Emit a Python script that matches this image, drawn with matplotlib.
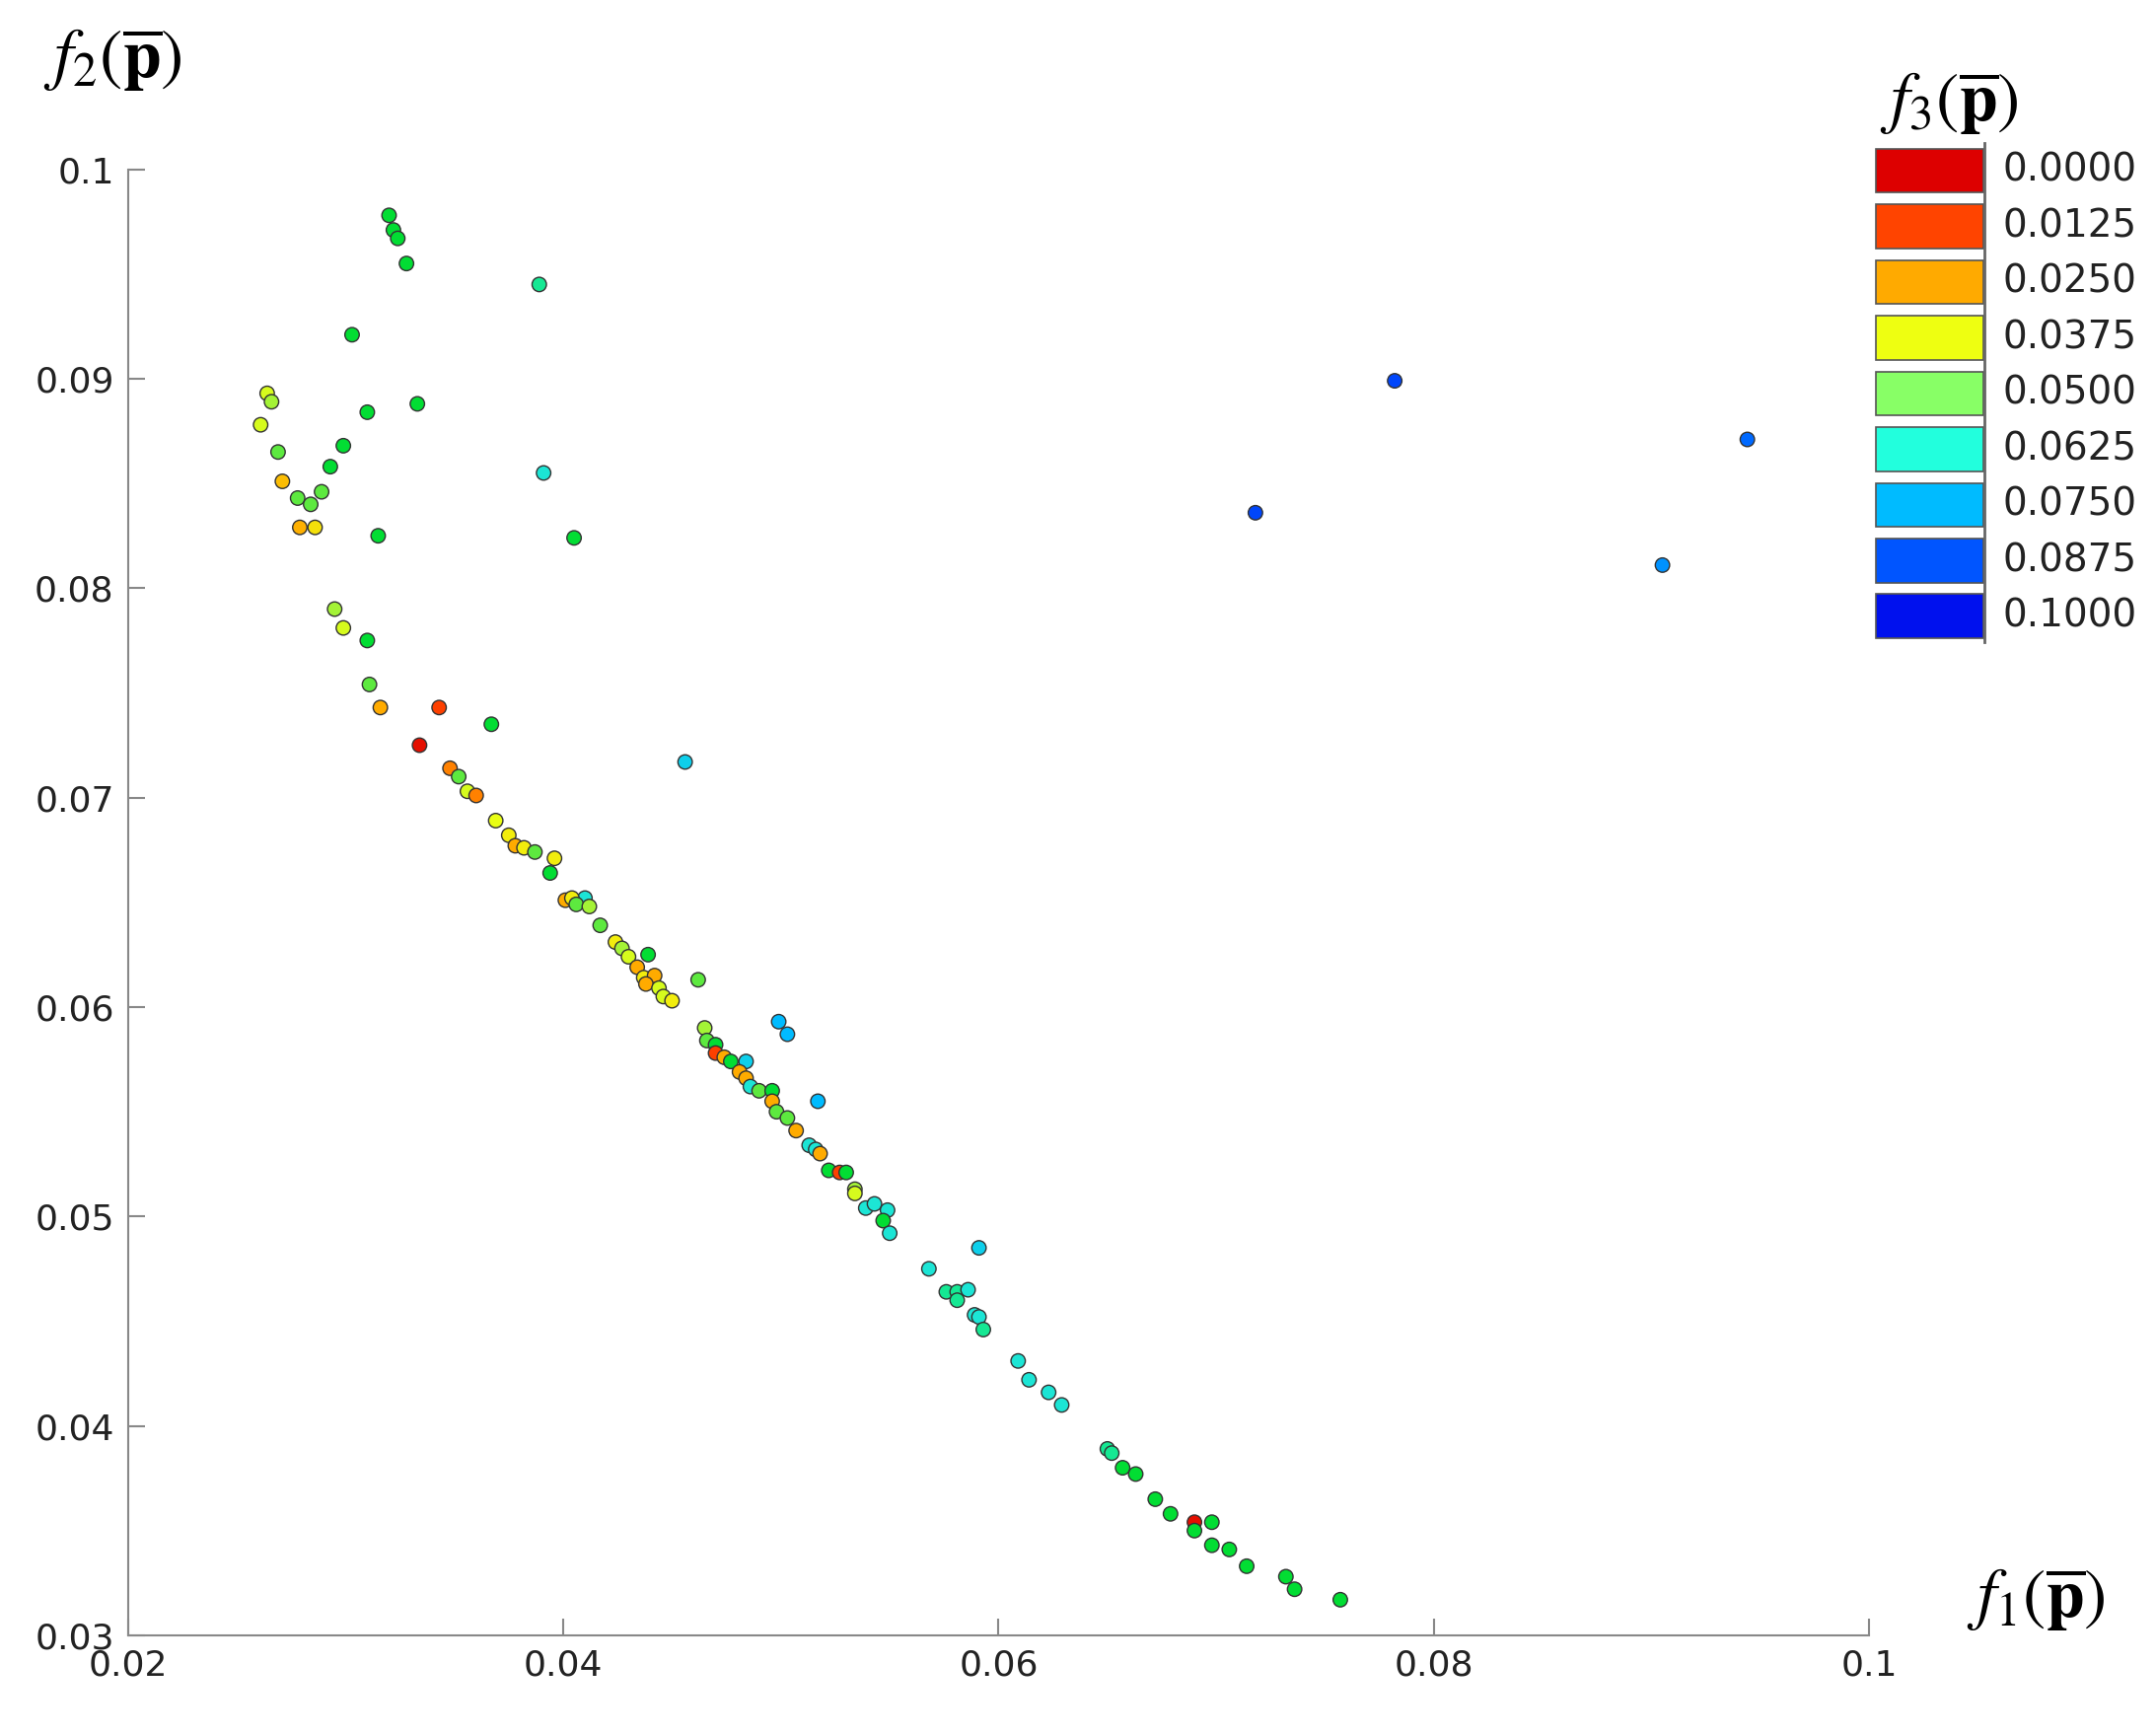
import numpy as np
import matplotlib.pyplot as plt
from matplotlib.colors import LinearSegmentedColormap
from matplotlib.patches import Rectangle

plt.rcParams['mathtext.fontset'] = 'stix'

# f1, f2, f3 for each solution
f1 = [0.0320, 0.0322, 0.0324, 0.0328, 0.0389, 0.0303, 0.0264, 0.0266, 0.0261, 0.0333,
      0.0310, 0.0299, 0.0269, 0.0293, 0.0391, 0.0271, 0.0289, 0.0278, 0.0284, 0.0315,
      0.0405, 0.0279, 0.0286, 0.0295, 0.0299, 0.0310, 0.0311, 0.0316, 0.0343, 0.0334,
      0.0367, 0.0456, 0.0348, 0.0352, 0.0356, 0.0360, 0.0369, 0.0375, 0.0378, 0.0382,
      0.0387, 0.0396, 0.0394, 0.0410, 0.0401, 0.0404, 0.0406, 0.0412, 0.0417, 0.0424,
      0.0427, 0.0430, 0.0439, 0.0434, 0.0437, 0.0442, 0.0438, 0.0444, 0.0462, 0.0446,
      0.0450, 0.0499, 0.0503, 0.0465, 0.0466, 0.0470, 0.0470, 0.0474, 0.0484, 0.0477,
      0.0481, 0.0484, 0.0486, 0.0490, 0.0496, 0.0517, 0.0496, 0.0498, 0.0503, 0.0507,
      0.0513, 0.0516, 0.0518, 0.0522, 0.0527, 0.0530, 0.0534, 0.0534, 0.0539, 0.0543,
      0.0549, 0.0547, 0.0550, 0.0591, 0.0568, 0.0576, 0.0581, 0.0581, 0.0586, 0.0589,
      0.0591, 0.0593, 0.0609, 0.0614, 0.0623, 0.0629, 0.0650, 0.0652, 0.0657, 0.0663,
      0.0672, 0.0679, 0.0690, 0.0690, 0.0698, 0.0698, 0.0706, 0.0714, 0.0732, 0.0736,
      0.0757, 0.0718, 0.0782, 0.0905, 0.0944]
f2 = [0.0978, 0.0971, 0.0967, 0.0955, 0.0945, 0.0921, 0.0893, 0.0889, 0.0878, 0.0888,
      0.0884, 0.0868, 0.0865, 0.0858, 0.0855, 0.0851, 0.0846, 0.0843, 0.0840, 0.0825,
      0.0824, 0.0829, 0.0829, 0.0790, 0.0781, 0.0775, 0.0754, 0.0743, 0.0743, 0.0725,
      0.0735, 0.0717, 0.0714, 0.0710, 0.0703, 0.0701, 0.0689, 0.0682, 0.0677, 0.0676,
      0.0674, 0.0671, 0.0664, 0.0652, 0.0651, 0.0652, 0.0649, 0.0648, 0.0639, 0.0631,
      0.0628, 0.0624, 0.0625, 0.0619, 0.0614, 0.0615, 0.0611, 0.0609, 0.0613, 0.0605,
      0.0603, 0.0593, 0.0587, 0.0590, 0.0584, 0.0582, 0.0578, 0.0576, 0.0574, 0.0574,
      0.0569, 0.0566, 0.0562, 0.0560, 0.0560, 0.0555, 0.0555, 0.0550, 0.0547, 0.0541,
      0.0534, 0.0532, 0.0530, 0.0522, 0.0521, 0.0521, 0.0513, 0.0511, 0.0504, 0.0506,
      0.0503, 0.0498, 0.0492, 0.0485, 0.0475, 0.0464, 0.0464, 0.0460, 0.0465, 0.0453,
      0.0452, 0.0446, 0.0431, 0.0422, 0.0416, 0.0410, 0.0389, 0.0387, 0.0380, 0.0377,
      0.0365, 0.0358, 0.0354, 0.0350, 0.0354, 0.0343, 0.0341, 0.0333, 0.0328, 0.0322,
      0.0317, 0.0836, 0.0899, 0.0811, 0.0871]
f3 = [0.055, 0.055, 0.055, 0.055, 0.060, 0.055, 0.040, 0.045, 0.040, 0.055,
      0.055, 0.055, 0.050, 0.055, 0.065, 0.028, 0.050, 0.050, 0.050, 0.055,
      0.055, 0.026, 0.033, 0.045, 0.040, 0.055, 0.050, 0.025, 0.012, 0.003,
      0.055, 0.070, 0.020, 0.050, 0.040, 0.020, 0.038, 0.035, 0.025, 0.035,
      0.050, 0.035, 0.055, 0.065, 0.025, 0.035, 0.050, 0.045, 0.050, 0.035,
      0.045, 0.040, 0.055, 0.025, 0.035, 0.025, 0.025, 0.040, 0.050, 0.040,
      0.035, 0.075, 0.075, 0.045, 0.050, 0.055, 0.012, 0.025, 0.070, 0.055,
      0.025, 0.025, 0.065, 0.050, 0.055, 0.075, 0.025, 0.050, 0.050, 0.025,
      0.065, 0.065, 0.025, 0.055, 0.012, 0.055, 0.045, 0.040, 0.065, 0.065,
      0.065, 0.055, 0.065, 0.070, 0.065, 0.060, 0.060, 0.060, 0.065, 0.065,
      0.065, 0.060, 0.065, 0.065, 0.065, 0.065, 0.060, 0.060, 0.055, 0.055,
      0.055, 0.055, 0.003, 0.055, 0.055, 0.055, 0.055, 0.055, 0.055, 0.055,
      0.055, 0.090, 0.090, 0.080, 0.085]

legend_vals = [0.0, 0.0125, 0.025, 0.0375, 0.05, 0.0625, 0.075, 0.0875, 0.1]
legend_cols = ['#dd0000', '#ff4400', '#ffaa00', '#eeff11', '#88ff66',
               '#22ffdd', '#00bbff', '#0055ff', '#0011ee']

# points use a more saturated jet-like scale than the legend swatches
pt_stops = [0.0, 0.125, 0.25, 0.375, 0.48, 0.55, 0.63, 0.75, 0.875, 1.0]
pt_cols = ['#dd0000', '#ff4400', '#ffaa00', '#eeff11', '#88ee44', '#00dd33',
           '#22eecc', '#00bbff', '#0055ff', '#0011ee']
cmap = LinearSegmentedColormap.from_list('f3', list(zip(pt_stops, pt_cols)))

fig = plt.figure(figsize=(21.86, 17.6), dpi=100)
ax = fig.add_axes([0.0593, 0.058, 0.8077, 0.8445])
ax.scatter(f1, f2, c=f3, cmap=cmap, vmin=0, vmax=0.1, s=110,
           edgecolors='#333333', linewidths=1.0, zorder=3)
ax.set_xlim(0.02, 0.1)
ax.set_ylim(0.03, 0.1)
ax.set_xticks([0.02, 0.04, 0.06, 0.08, 0.1])
ax.set_xticklabels(['0.02', '0.04', '0.06', '0.08', '0.1'])
ax.set_yticks([0.03, 0.04, 0.05, 0.06, 0.07, 0.08, 0.09, 0.1])
ax.set_yticklabels(['0.03', '0.04', '0.05', '0.06', '0.07', '0.08', '0.09', '0.1'])
for s in ['top', 'right']:
    ax.spines[s].set_visible(False)
for s in ['left', 'bottom']:
    ax.spines[s].set_color('#888888')
    ax.spines[s].set_linewidth(1.5)
ax.tick_params(direction='in', length=12, width=1.5, color='#888888',
               labelsize=26, labelcolor='#222222', pad=10)

fig.text(0.020, 0.955, r'$f_2(\overline{\mathbf{p}})$', fontsize=50)
fig.text(0.912, 0.068, r'$f_1(\overline{\mathbf{p}})$', fontsize=50)
fig.text(0.872, 0.93, r'$f_3(\overline{\mathbf{p}})$', fontsize=50)

# discrete legend boxes
top = 1 - 108 / 1262
row_h = 40.5 / 1262
box_h = 32 / 1262
for i, (v, c) in enumerate(zip(legend_vals, legend_cols)):
    y0 = top - i * row_h - box_h
    fig.patches.append(Rectangle((0.870, y0), 0.050, box_h, transform=fig.transFigure,
                                 facecolor=c, edgecolor='#555555', linewidth=1.2))
    fig.text(0.929, y0 + box_h / 2, f'{v:.4f}', fontsize=28, va='center', color='#222222')
fig.add_artist(plt.Line2D([0.9205, 0.9205], [1 - 467 / 1262, 1 - 104 / 1262],
                          transform=fig.transFigure, color='#666666', linewidth=2))

fig.savefig('out.png', dpi=100)
